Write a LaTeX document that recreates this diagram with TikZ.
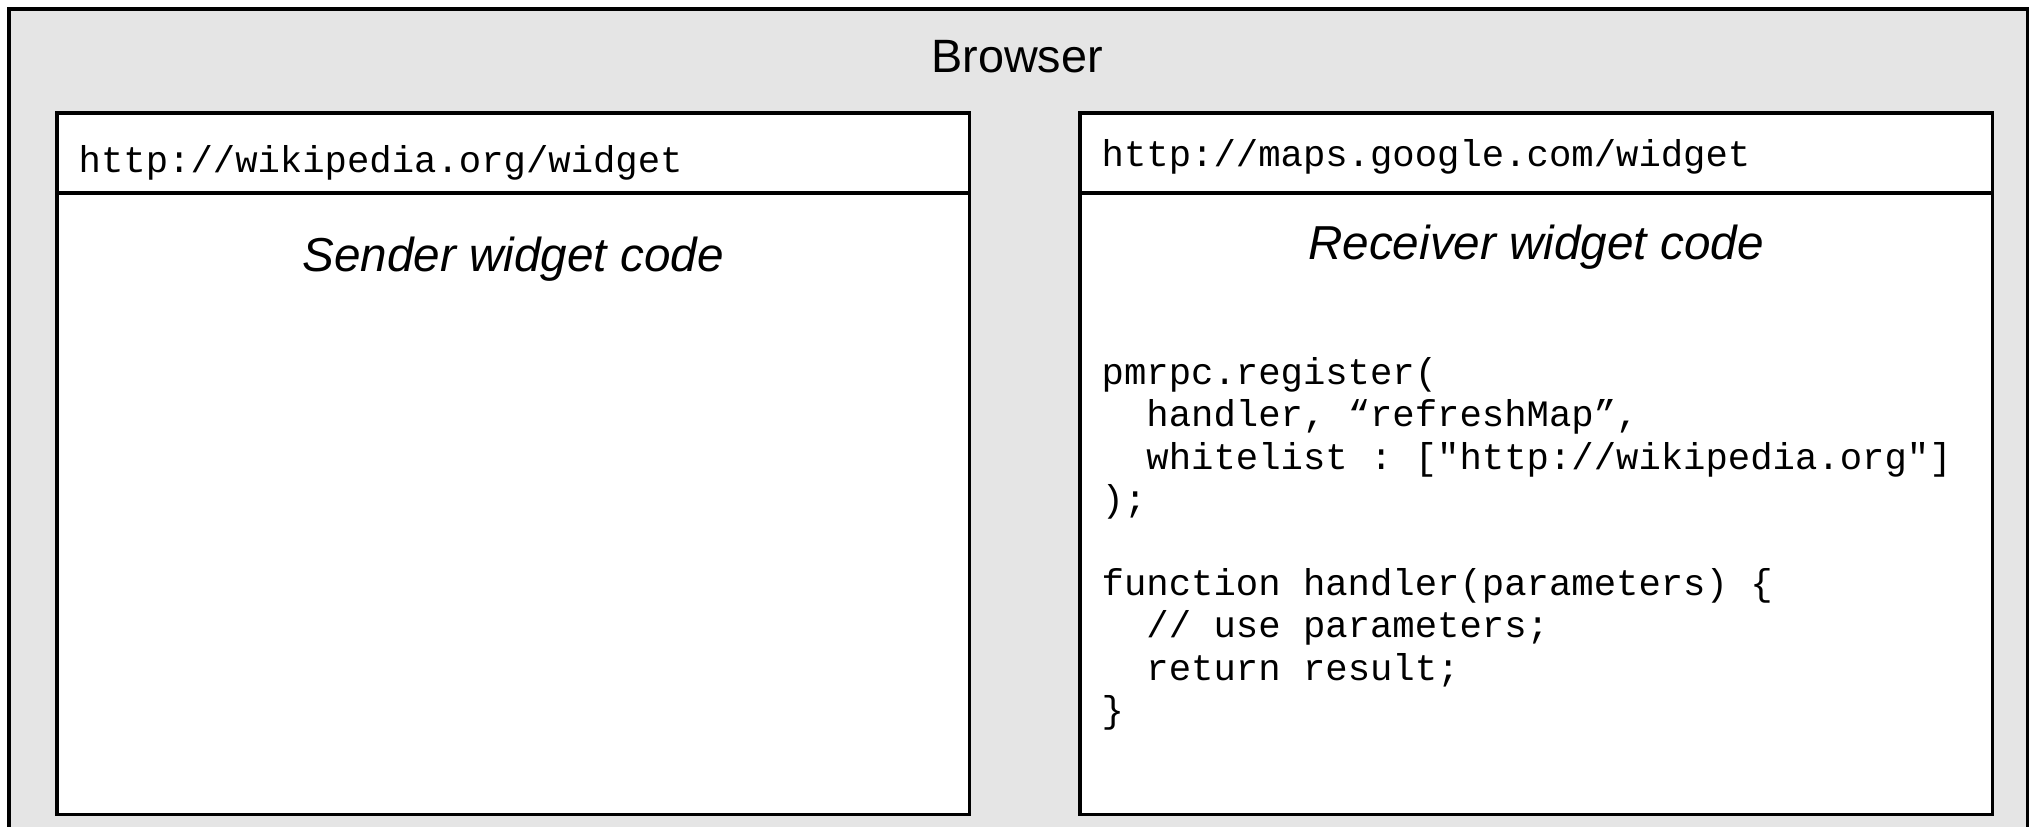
\documentclass[tikz,border=0pt]{standalone}
\usepackage{fontspec}
\setsansfont{Liberation Sans}
\setmonofont{Liberation Mono}
\usetikzlibrary{positioning}
\definecolor{browsergray}{HTML}{E5E5E5}
\newcommand{\codeindent}{\phantom{xx}}
\begin{document}
\begin{tikzpicture}[x=0.01cm, y=-0.01cm]
\tikzstyle{panel} = [draw, line width = 0.9pt, rectangle, outer sep = 0pt, inner sep = 0pt] % standard frame
\tikzstyle{title} = [anchor = base, inner sep = 0pt, font = \sffamily\fontsize{13.3}{16}\selectfont] % sans captions
\tikzstyle{code} = [inner sep = 0pt, align = left, font = \ttfamily\fontsize{10.6}{12}\selectfont] % monospaced text
\useasboundingbox (0,0) rectangle (2031,826); % fix page size
\node(browser)[panel, fill = browsergray, anchor = north west, minimum width = 20.17cm, minimum height = 9cm] at (9,9){}; % browser window, bottom cut off
\node(browsertitle)[title] at (1017,72){Browser};
% left widget: header + body
\node(senderhead)[panel, fill = white, anchor = north west, minimum width = 9.12cm, minimum height = 0.8cm] at (57,113){};
\node(senderbody)[panel, fill = white, below = 0pt of senderhead, minimum width = 9.12cm, minimum height = 6.21cm]{};
\node(senderurl)[code, anchor = base west] at (78,172){http://wikipedia.org/widget};
\node(sendertitle)[title, font = \sffamily\itshape\fontsize{13.55}{16}\selectfont] at (513,271){Sender widget code};
% right widget: header + body
\node(receiverhead)[panel, fill = white, anchor = north west, minimum width = 9.12cm, minimum height = 0.8cm] at (1080,113){};
\node(receiverbody)[panel, fill = white, below = 0pt of receiverhead, minimum width = 9.12cm, minimum height = 6.21cm]{};
\node(receiverurl)[code, anchor = base west] at (1101,166){http://maps.google.com/widget};
\node(receivertitle)[title, font = \sffamily\itshape\fontsize{13.55}{16}\selectfont] at (1536,259){Receiver widget code};
\node(receivercode)[code, anchor = north west] at (1101,357){pmrpc.register(\\
\codeindent handler, “refreshMap”,\\
\codeindent whitelist : ["http://wikipedia.org"]\\
);\\
~\\
function handler(parameters) \{\\
\codeindent // use parameters;\\
\codeindent return result;\\
\}}; % registration code
\end{tikzpicture}
\end{document}
